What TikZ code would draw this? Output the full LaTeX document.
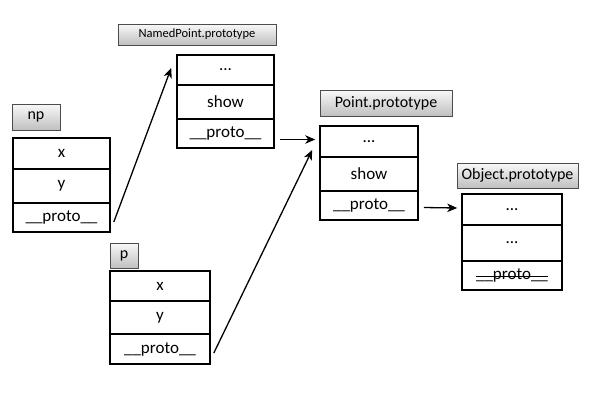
\documentclass[tikz,border=0pt]{standalone}
\usepackage{fontspec}
\setmainfont{Carlito}
\usepackage{tikz}
\usetikzlibrary{shapes,arrows,arrows.meta,positioning,calc}

\tikzset{
	cell/.style={draw, line width=1.6pt, minimum width=97pt, inner sep=0pt, font=\fontsize{17}{17}\selectfont},
	tag/.style={draw=gray!60!black, top color=gray!5, bottom color=gray!50, inner sep=0pt, font=\fontsize{16}{16}\selectfont},
	arr/.style={-{Stealth[length=10pt,width=8.5pt,inset=3pt]}, line width=1.3pt}
}

\begin{document}
\begin{tikzpicture}[x=1pt,y=-1pt]
						\useasboundingbox (0,0) rectangle (600,400);
						\node[tag, minimum width=158pt, minimum height=21pt, font=\fontsize{12.5}{12.5}\selectfont] (npp-tag) at (197,34.5) {NamedPoint.prototype};
						\node[cell, minimum height=30pt] (npp-dots) at (225.5,70) {...};
						\node[cell, minimum height=34pt] (npp-show) at (225.5,102) {show};
						\node[cell, minimum height=29pt] (npp-proto) at (225.5,133.5) {\_\_proto\_\_};
						\node[tag, minimum width=48pt, minimum height=26pt] (np-tag) at (36,117) {np};
						\node[cell, minimum height=31pt] (np-x) at (61.5,153.5) {x};
						\node[cell, minimum height=34pt] (np-y) at (61.5,186) {y};
						\node[cell, minimum height=29pt] (np-proto) at (61.5,217.5) {\_\_proto\_\_};
						\node[tag, minimum width=28pt, minimum height=25pt] (p-tag) at (124,255.5) {p};
						\node[cell, minimum width=100pt, minimum height=30pt] (p-x) at (160,286) {x};
						\node[cell, minimum width=100pt, minimum height=33pt] (p-y) at (160,317.5) {y};
						\node[cell, minimum width=100pt, minimum height=30pt] (p-proto) at (160,349) {\_\_proto\_\_};
						\node[tag, minimum width=132pt, minimum height=26pt] (pp-tag) at (386,103) {Point.prototype};
						\node[cell, minimum width=98pt, minimum height=31pt] (pp-dots) at (369,141.5) {...};
						\node[cell, minimum width=98pt, minimum height=34pt] (pp-show) at (369,174) {show};
						\node[cell, minimum width=98pt, minimum height=29pt] (pp-proto) at (369,205.5) {\_\_proto\_\_};
						\node[tag, minimum width=121pt, minimum height=25pt] (op-tag) at (517.5,175.5) {Object.prototype};
						\node[cell, minimum width=100pt, minimum height=31pt] (op-dots1) at (512,209.5) {...};
						\node[cell, minimum width=100pt, minimum height=36pt] (op-dots2) at (512,243) {...};
						\node[cell, minimum width=100pt, minimum height=29pt] (op-proto) at (512,275.5) {};
						\node[inner sep=0pt, font=\fontsize{17}{17}\selectfont] (op-proto-txt) at (op-proto) {\_\_proto\_\_};
						\draw[line width=0.9pt] ([yshift=-1pt]op-proto-txt.west) -- ([yshift=-1pt]op-proto-txt.east);
						\draw[arr] ([xshift=3pt,yshift=-4.5pt]np-proto.east) -- ([xshift=-5pt,yshift=2pt]npp-dots.west);
						\draw[arr] ([xshift=5pt,yshift=-6pt]npp-proto.east) -- ([xshift=-4pt,yshift=2pt]pp-dots.west);
						\draw[arr] ([xshift=3pt,yshift=-4pt]p-proto.east) -- ([xshift=-7pt,yshift=-8.5pt]pp-dots.west);
						\draw[arr] ([xshift=5pt,yshift=-2pt]pp-proto.east) -- ([xshift=-4pt,yshift=1.5pt]op-dots1.west);
					\end{tikzpicture}
\end{document}
